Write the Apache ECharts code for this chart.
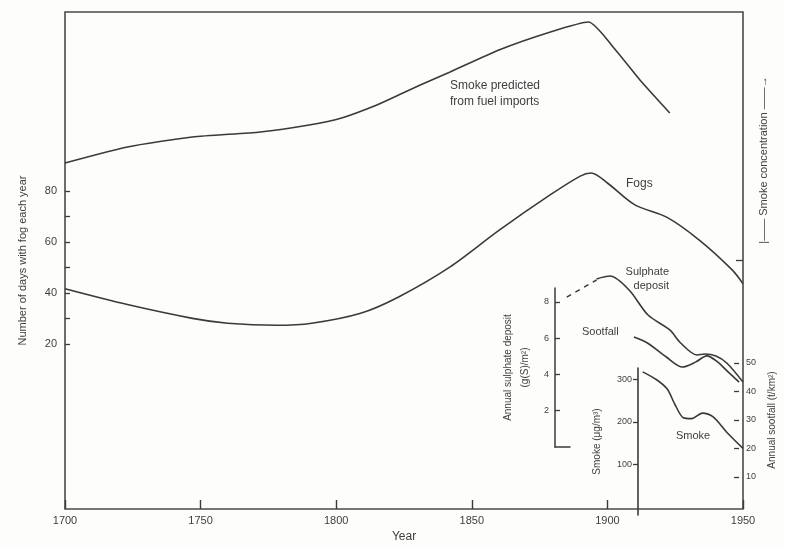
<!DOCTYPE html>
<html><head><meta charset="utf-8">
<script src="https://cdn.jsdelivr.net/npm/echarts@6/dist/echarts.min.js"></script>
<style>html,body{margin:0;padding:0;background:#fdfdfc}#c{width:785px;height:548px}</style>
</head><body><div id="c"></div>
<script>
// ---- tick labels ----
const xTicks = [1700, 1750, 1800, 1850, 1900, 1950];
const fogLabelTicks = [20, 40, 60, 80];
const fogMinorTicks = [20, 30, 40, 50, 60, 70, 80];
const sulphateTicks = [2, 4, 6, 8];
const smokeTicks = [100, 200, 300];
const sootTicks = [10, 20, 30, 40, 50];
const smokeConcTicks = [0];

// ---- series data ----
const fogYears  = [1700, 1723, 1747, 1760, 1778, 1791, 1809, 1823, 1842, 1860, 1879, 1890, 1894, 1900, 1910, 1922, 1934, 1946, 1950];
const fogDays   = [41.7, 35.5, 30.1, 28.2, 27.4, 28.2, 32.1, 38.5, 50.3, 64.6, 78.6, 85.9, 87.1, 83.2, 74.7, 69.7, 60.7, 49.1, 43.7];

const predYears = [1700, 1723, 1747, 1772, 1790, 1802, 1815, 1823, 1831, 1842, 1860, 1879, 1893, 1903, 1912, 1923];
const predSmoke = [48.5, 56.5, 61.5, 64, 67.5, 71, 77.5, 82.5, 87.5, 94, 105, 114, 119, 105, 90, 73.5];

const sulphateDashYears = [1885, 1896];
const sulphateDashVals  = [8.26, 9.2];
const sulphateYears = [1896, 1901, 1908, 1915, 1923, 1927, 1933, 1936, 1940, 1944, 1950];
const sulphateVals  = [9.26, 9.42, 8.65, 7.27, 6.45, 5.73, 5.07, 5.12, 5.01, 4.63, 3.58];

const sootYears = [1911, 1916, 1923, 1929, 1934, 1938, 1942, 1946, 1950];
const sootVals  = [59.1, 57.0, 52.1, 48.6, 50.4, 52.5, 50.4, 46.8, 43.3];

const smokeYears = [1913, 1918, 1922, 1925, 1928, 1931, 1935, 1939, 1944, 1950];
const smokeVals  = [318, 300, 278, 240, 210, 208, 221, 212, 176, 138];

// ---- layout ----
const W = 785, H = 548;
const FX0 = 65, FX1 = 743, FY0 = 12, FY1 = 515;
const pxPerYr = (FX1 - FX0) / 250;
const xMinAt = px => 1700 + (px - FX0) / pxPerYr;
const TXT = '#3e3e3e', LN = '#3a3a3a', FONT = 'Liberation Sans';

const zip = (a, b) => a.map((v, i) => [v, b[i]]);

// fog axis: 80 at y=193.3, 2.58 px per day
const fogPx = 2.58, fog80 = 193.3;
// sulphate: 0 at y=447, 18.15 px per unit
const sulTop = 288, sul0 = 447, sulPx = 18.15, sulLeft = 555;
// smoke inset: 0 at y=507, 0.425 px per unit
const smTop = 368, sm0 = 507, smPx = 0.425, smLeft = 638;
// sootfall: 0 at y=505.5, 2.85 px per unit
const so0 = 505.5, soPx = 2.85, soTop = so0 - 60 * soPx;

const hiddenX = (i, left) => ({gridIndex: i, type: 'value', min: xMinAt(left), max: 1950, show: false});
const lineSeries = (xi, data, extra) => Object.assign({
  type: 'line', xAxisIndex: xi, yAxisIndex: xi, data, showSymbol: false, smooth: 0.3,
  lineStyle: {color: LN, width: 1.6}, itemStyle: {color: LN}, silent: true
}, extra || {});

const chart = echarts.init(document.getElementById('c'));
chart.setOption({
  animation: false,
  backgroundColor: '#fdfdfc',
  textStyle: {fontFamily: FONT, color: TXT},
  grid: [
    {left: FX0, right: W - FX1, top: FY0, bottom: H - FY1, show: true, borderColor: '#4a4a4a', borderWidth: 1.6, backgroundColor: 'transparent'},
    {left: FX0, right: W - FX1, top: 60, bottom: H - 260},
    {left: sulLeft, right: W - FX1, top: sulTop, bottom: H - sul0},
    {left: sulLeft, width: 15, top: sulTop, bottom: H - sul0},
    {left: smLeft, right: W - FX1, top: smTop, bottom: H - FY1},
    {left: FX0, right: W - FX1, top: soTop, bottom: H - so0}
  ],
  xAxis: [
    {gridIndex: 0, type: 'value', min: xTicks[0], max: xTicks[xTicks.length - 1], interval: 50,
     axisLine: {show: false, onZero: false}, splitLine: {show: false},
     axisTick: {inside: true, length: 9, lineStyle: {color: LN, width: 1.4}},
     axisLabel: {color: TXT, fontSize: 11, margin: 6, formatter: v => String(v)},
     name: 'Year', nameLocation: 'middle', nameGap: 22, nameTextStyle: {color: TXT, fontSize: 12}},
    hiddenX(1, FX0),
    hiddenX(2, sulLeft),
    {gridIndex: 3, type: 'value', min: 0, max: 1, axisLine: {show: true, onZero: false, lineStyle: {color: LN, width: 1.5}},
     axisTick: {show: false}, axisLabel: {show: false}, splitLine: {show: false}},
    hiddenX(4, smLeft),
    hiddenX(5, FX0)
  ],
  yAxis: [
    {gridIndex: 0, type: 'value', min: 80 - (FY1 - fog80) / fogPx, max: 80 + (fog80 - FY0) / fogPx,
     axisLine: {show: false, onZero: false}, splitLine: {show: false},
     axisTick: {inside: true, length: 5, customValues: fogMinorTicks, lineStyle: {color: LN, width: 1.3}},
     axisLabel: {customValues: fogLabelTicks, color: TXT, fontSize: 11, margin: 8},
     name: 'Number of days with fog each year', nameLocation: 'middle', nameGap: 37,
     nameTextStyle: {color: TXT, fontSize: 11}},
    {gridIndex: 1, type: 'value', position: 'right', min: 0, max: 100,
     axisLine: {show: false, onZero: false}, splitLine: {show: false},
     axisTick: {inside: true, length: 7, customValues: smokeConcTicks, lineStyle: {color: LN, width: 1.3}},
     axisLabel: {show: false},
     name: '|—— Smoke concentration ——→', nameLocation: 'middle', nameGap: 15,
     nameTextStyle: {color: TXT, fontSize: 11}},
    {gridIndex: 2, type: 'value', min: 0, max: (sul0 - sulTop) / sulPx,
     axisLine: {show: true, onZero: false, lineStyle: {color: LN, width: 1.5}}, splitLine: {show: false},
     axisTick: {inside: true, length: 5, customValues: sulphateTicks, lineStyle: {color: LN, width: 1.3}},
     axisLabel: {customValues: sulphateTicks, color: TXT, fontSize: 9, margin: 6},
     name: 'Annual sulphate deposit\n(g(S)/m²)', nameLocation: 'middle', nameGap: 21,
     nameTextStyle: {color: TXT, fontSize: 10, lineHeight: 17}},
    {gridIndex: 3, type: 'value', show: false},
    {gridIndex: 4, type: 'value', min: -(FY1 - sm0) / smPx, max: (sm0 - smTop) / smPx,
     axisLine: {show: true, onZero: false, lineStyle: {color: LN, width: 1.6}}, splitLine: {show: false},
     axisTick: {inside: false, length: 5, customValues: smokeTicks, lineStyle: {color: LN, width: 1.3}},
     axisLabel: {customValues: smokeTicks, color: TXT, fontSize: 9, margin: 6},
     name: 'Smoke (μg/m³)', nameLocation: 'middle', nameGap: 36,
     nameTextStyle: {color: TXT, fontSize: 10}},
    {gridIndex: 5, type: 'value', position: 'right', min: 0, max: 60,
     axisLine: {show: false, onZero: false}, splitLine: {show: false},
     axisTick: {inside: true, length: 5, customValues: sootTicks, lineStyle: {color: LN, width: 1.3}},
     axisLabel: {customValues: sootTicks, color: TXT, fontSize: 9, margin: 7},
     name: 'Annual sootfall (t/km²)', nameLocation: 'middle', nameGap: 23,
     nameTextStyle: {color: TXT, fontSize: 10}}
  ],
  series: [
    lineSeries(0, zip(fogYears, fogDays)),
    lineSeries(1, zip(predYears, predSmoke), {clip: false, smooth: 0.2}),
    lineSeries(2, zip(sulphateDashYears, sulphateDashVals), {clip: false, smooth: false, lineStyle: {color: LN, width: 1.5, type: [5, 5]}}),
    lineSeries(2, zip(sulphateYears, sulphateVals), {clip: false}),
    lineSeries(5, zip(sootYears, sootVals), {clip: false}),
    lineSeries(4, zip(smokeYears, smokeVals), {clip: false})
  ],
  graphic: [
    {type: 'text', left: 450, top: 78, style: {text: 'Smoke predicted\nfrom fuel imports', fill: TXT, font: '12px ' + FONT, lineHeight: 16}},
    {type: 'text', left: 626, top: 178, style: {text: 'Fogs', fill: TXT, font: '12px ' + FONT}},
    {type: 'text', x: 669, y: 266, style: {text: 'Sulphate', fill: TXT, font: '11px ' + FONT, align: 'right', verticalAlign: 'top'}},
    {type: 'text', x: 669, y: 280, style: {text: 'deposit', fill: TXT, font: '11px ' + FONT, align: 'right', verticalAlign: 'top'}},
    {type: 'text', left: 582, top: 326, style: {text: 'Sootfall', fill: TXT, font: '11px ' + FONT}},
    {type: 'text', left: 676, top: 430, style: {text: 'Smoke', fill: TXT, font: '11px ' + FONT}}
  ]
});
</script></body></html>
